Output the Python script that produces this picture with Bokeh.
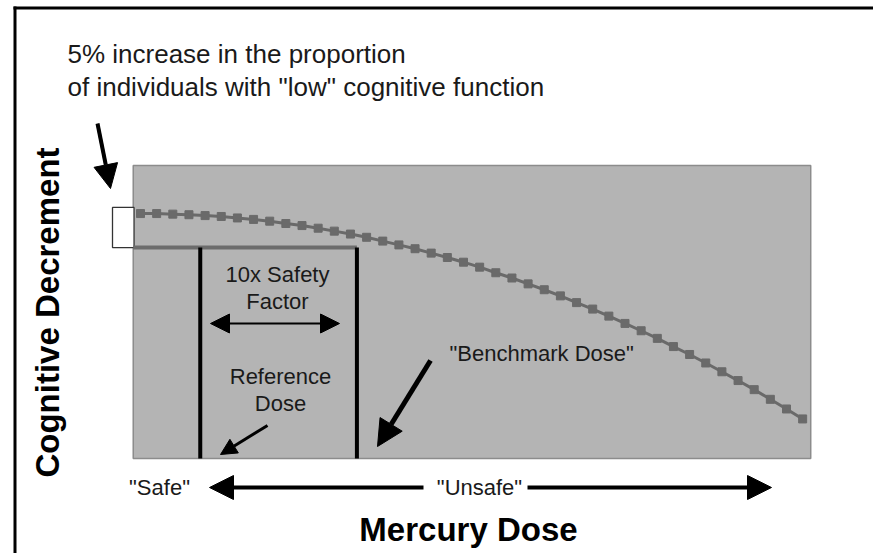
import math
from bokeh.plotting import figure
from bokeh.models import Range1d, Arrow, NormalHead
from bokeh.core.properties import value
from bokeh.embed import file_html
from bokeh.resources import INLINE

# ---------------- data (schematic dose-response) ----------------
dose = list(range(42))
decrement = [83.6, 83.6, 83.4, 83.2, 82.9, 82.6, 82.1, 81.6, 81.0, 80.2,
             79.5, 78.6, 77.6, 76.6, 75.5, 74.2, 72.9, 71.6, 70.1, 68.6,
             67.0, 65.3, 63.4, 61.6, 59.6, 57.6, 55.5, 53.2, 51.0, 48.6,
             46.1, 43.6, 41.0, 38.2, 35.5, 32.6, 29.6, 26.6, 23.5, 20.2,
             16.9, 13.5]
dose_span = [-0.45, 41.5]
decrement_span = [0, 100]
benchmark_dose = 13.4
reference_dose = 3.7
bmr_level = 72.0
bmr_top = 85.7
zone_labels = ['"Safe"', '"Unsafe"']
x_title = "Mercury Dose"
y_title = "Cognitive Decrement"
note_lines = ["5% increase in the proportion",
              'of individuals with "low" cognitive function']

# ---------------- layout helpers (picture pixels -> data units) ----------------
W, H = 873, 553
def X(px):
    return (px - 140.0) / 16.15
def Y(py):
    return (458.0 - py) / 2.93

FONT = value("Liberation Sans")
TXT = "#1a1a1a"

p = figure(width=W, height=H, output_backend="svg", toolbar_location=None,
           x_range=Range1d(X(0), X(W)), y_range=Range1d(Y(H), Y(0)),
           min_border=0, background_fill_color="white",
           border_fill_color="white")
p.axis.visible = False
p.grid.visible = False
p.outline_line_color = None

# frame border (left & top)
p.line(x=[X(14.5), X(14.5)], y=[Y(6), Y(560)], line_color="black", line_width=3)
p.line(x=[X(13), X(880)], y=[Y(7.5), Y(7.5)], line_color="black", line_width=3)

# gray box
p.quad(left=[dose_span[0]], right=[dose_span[1]],
       bottom=[decrement_span[0]], top=[decrement_span[1]],
       fill_color="#b4b4b4", line_color="#8c8c8c", line_width=1.5)

# white 5% box
p.quad(left=[X(112)], right=[dose_span[0] + 0.05], bottom=[bmr_level], top=[bmr_top],
       fill_color="white", line_color="#333333", line_width=1.3)

# threshold line
p.line(x=[dose_span[0], benchmark_dose], y=[bmr_level, bmr_level],
       line_color="#6c6c6c", line_width=4)

# vertical dose lines
for d in (reference_dose, benchmark_dose):
    p.line(x=[d, d], y=[decrement_span[0], bmr_level], line_color="black", line_width=4)

# curve
p.line(x=dose, y=decrement, line_color="#6a6a6a", line_width=3)
p.scatter(x=dose, y=decrement, marker="square", size=8,
          fill_color="#6a6a6a", line_color="#6a6a6a")

# ---------------- texts (y = vertical centre) ----------------
def txt(xs, ys, texts, size, align="center", bold=False, color=TXT, angle=0.0):
    p.text(x=[X(v) for v in xs], y=[Y(v) for v in ys], text=texts, angle=angle,
           text_font=FONT, text_font_size=size, text_color=color,
           text_font_style="bold" if bold else "normal",
           text_align=align, text_baseline="middle")

txt([67, 67], [53, 86], note_lines, "26px", align="left")
txt([277, 277], [274, 301], ["10x Safety", "Factor"], "22px")
txt([280, 280], [376, 403], ["Reference", "Dose"], "22px")
txt([449], [353], ['"Benchmark Dose"'], "22px", align="left")
txt([159, 479], [487, 487], zone_labels, "22px")
txt([468], [529], [x_title], "33px", bold=True, color="black")
txt([47], [312], [y_title], "33px", bold=True, color="black", angle=math.pi / 2)

# ---------------- arrows ----------------
def arrow(x0, y0, x1, y1, lw, size):
    p.add_layout(Arrow(end=NormalHead(size=size, fill_color="black", line_color="black"),
                       x_start=X(x0), y_start=Y(y0), x_end=X(x1), y_end=Y(y1),
                       line_color="black", line_width=lw))

arrow(97, 123, 110, 188, 4, 24)          # to 5% box
arrow(430, 360, 377, 446, 5, 26)         # benchmark dose
arrow(267, 425, 220, 454, 3, 16)         # reference dose
# double arrow inside box
p.add_layout(Arrow(start=NormalHead(size=19, fill_color="black", line_color="black"),
                   end=NormalHead(size=19, fill_color="black", line_color="black"),
                   x_start=X(210), y_start=Y(323), x_end=X(339), y_end=Y(323),
                   line_color="black", line_width=2))
# safe / unsafe arrow (broken around label)
arrow(423, 487, 209, 487, 4, 24)
arrow(527, 487, 771, 487, 4, 24)

open("out.html", "w").write(file_html(p, INLINE))
